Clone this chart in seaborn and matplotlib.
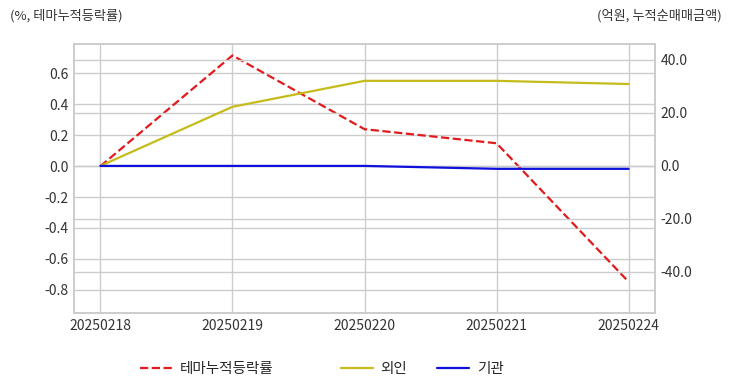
import matplotlib.pyplot as plt
import seaborn as sns
import pandas as pd
from matplotlib.ticker import FormatStrFormatter

# 데이터
dates = ["20250218", "20250219", "20250220", "20250221", "20250224"]
theme_rate = [0.0, 0.716, 0.239, 0.148, -0.748]   # 테마누적등락률 (%)
foreign = [0.0, 22.3, 32.1, 32.1, 30.9]           # 외인 (억원)
institution = [0.0, 0.0, 0.0, -1.1, -1.1]         # 기관 (억원)

df = pd.DataFrame({"date": dates, "theme": theme_rate,
                   "foreign": foreign, "inst": institution})

sns.set_theme(style="whitegrid")
plt.rcParams["font.family"] = ["Noto Sans CJK KR", "DejaVu Sans"]
plt.rcParams["axes.unicode_minus"] = False

fig = plt.figure(figsize=(7.32, 3.92), dpi=100)
ax = fig.add_axes([74/732, 1-313/392, (655-74)/732, (313-44)/392])
ax2 = ax.twinx()

sns.lineplot(data=df, x="date", y="theme", ax=ax, color="#e31a1c",
             linestyle="--", lw=1.6, label="테마누적등락률", legend=False)
sns.lineplot(data=df, x="date", y="foreign", ax=ax2, color="#c4bc1a",
             lw=1.6, label="외인", legend=False)
sns.lineplot(data=df, x="date", y="inst", ax=ax2, color="#1010dd",
             lw=1.6, label="기관", legend=False)

ax.set_xlim(-0.2, 4.2)
ax.set_ylim(-0.95, 0.79)
ax2.set_ylim(-55.5, 46)
ax.set_yticks([-0.8, -0.6, -0.4, -0.2, 0.0, 0.2, 0.4, 0.6])
ax2.set_yticks([-40, -20, 0, 20, 40])
ax.yaxis.set_major_formatter(FormatStrFormatter("%.1f"))
ax2.yaxis.set_major_formatter(FormatStrFormatter("%.1f"))
ax.set_xlabel("")
ax.set_ylabel("")
ax2.set_ylabel("")

for a in (ax, ax2):
    a.tick_params(labelsize=10, colors="#333333", length=0, pad=4)
    for s in a.spines.values():
        s.set_color("#cccccc")
        s.set_linewidth(1.2)
ax2.grid(True, color="#cccccc", lw=1)
ax.grid(True, color="#cccccc", lw=1)

fig.text(10/732, 1-16/392, "(%, 테마누적등락률)", fontsize=9.5, color="#333333",
         va="center", ha="left")
fig.text(722/732, 1-16/392, "(억원, 누적순매매금액)", fontsize=9.5, color="#333333",
         va="center", ha="right")

h1, l1 = ax.get_legend_handles_labels()
h2, l2 = ax2.get_legend_handles_labels()
leg1 = fig.legend(h1, l1, loc="center", bbox_to_anchor=(207/732, 1-369/392),
                  frameon=False, fontsize=10.5, handlelength=2.2,
                  handletextpad=0.55)
leg2 = fig.legend(h2, l2, loc="center", bbox_to_anchor=(422/732, 1-369/392),
                  frameon=False, fontsize=10.5, ncol=2, columnspacing=2.0,
                  handlelength=2.2, handletextpad=0.55)

fig.savefig("out.png", dpi=100)
